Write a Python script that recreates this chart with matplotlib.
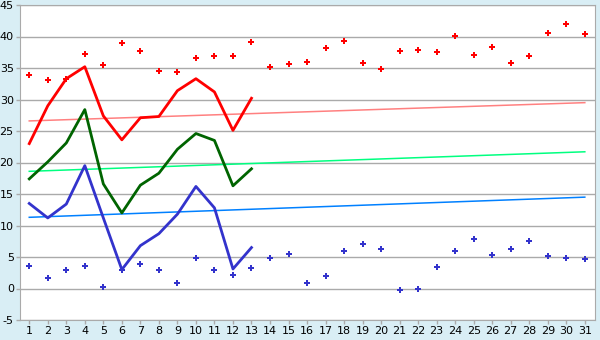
import numpy as np
import matplotlib
matplotlib.use('Agg')
import matplotlib.pyplot as plt

plt.rcParams['axes.unicode_minus'] = False

days = list(range(1, 32))

# scattered points for the whole month
high_pts = [33.9, 33.1, 33.3, 37.2, 35.5, 39.0, 37.7, 34.5, 34.4, 36.6,
            36.9, 36.9, 39.2, 35.2, 35.6, 36.0, 38.2, 39.3, 35.8, 34.8,
            37.7, 37.9, 37.6, 40.1, 37.1, 38.4, 35.8, 36.9, 40.6, 42.0, 40.4]
low_pts = [3.6, 1.7, 3.0, 3.6, 0.3, 2.9, 3.9, 3.0, 0.9, 4.9,
           3.0, 2.2, 3.2, 4.9, 5.5, 0.9, 2.0, 6.0, 7.0, 6.2,
           -0.2, 0.0, 3.4, 6.0, 7.8, 5.3, 6.3, 7.6, 5.1, 4.9, 4.7]

# lines for the first 13 days
line_days = list(range(1, 14))
red_line = [23.0, 29.0, 33.3, 35.2, 27.4, 23.6, 27.1, 27.3, 31.4, 33.3, 31.2, 25.1, 30.2]
green_line = [17.4, 20.1, 23.1, 28.4, 16.6, 12.0, 16.4, 18.3, 22.1, 24.6, 23.5, 16.3, 19.0]
blue_line = [13.5, 11.2, 13.4, 19.5, 11.2, 3.0, 6.8, 8.7, 11.8, 16.2, 12.8, 3.1, 6.5]

# trend lines (start, end)
red_trend = [26.6, 29.5]
green_trend = [18.6, 21.7]
blue_trend = [11.3, 14.5]

fig = plt.figure(figsize=(6, 3.4), dpi=100, facecolor='#d9eef5')
ax = fig.add_axes([20/600, 1-320/340, 575/600, 315/340])
ax.set_facecolor('white')

ends = [days[0], days[-1]]
ax.plot(ends, red_trend, color='#ff8080', lw=1.1)
ax.plot(ends, green_trend, color='#00ff80', lw=1.1)
ax.plot(ends, blue_trend, color='#0080ff', lw=1.1)

ax.plot(line_days, red_line, color='#ff0000', lw=2)
ax.plot(line_days, green_line, color='#006400', lw=2)
ax.plot(line_days, blue_line, color='#3333cc', lw=2)

ax.plot(days, high_pts, 'P', color='#ff0000', ms=5, mew=0, ls='none')
ax.plot(days, low_pts, 'P', color='#3333cc', ms=5, mew=0, ls='none')

ax.set_xlim(0.5, 31.55)
ax.set_ylim(-5, 45)
ax.set_xticks(days)
ax.set_yticks(np.arange(-5, 46, 5))
ax.grid(axis='y', color='#aaaaaa', lw=1)
ax.set_axisbelow(True)
for s in ax.spines.values():
    s.set_color('#aaaaaa')
ax.tick_params(colors='#aaaaaa', labelcolor='black', labelsize=8, length=3, width=1, pad=1.5)

fig.savefig('out.png', dpi=100, facecolor=fig.get_facecolor())
